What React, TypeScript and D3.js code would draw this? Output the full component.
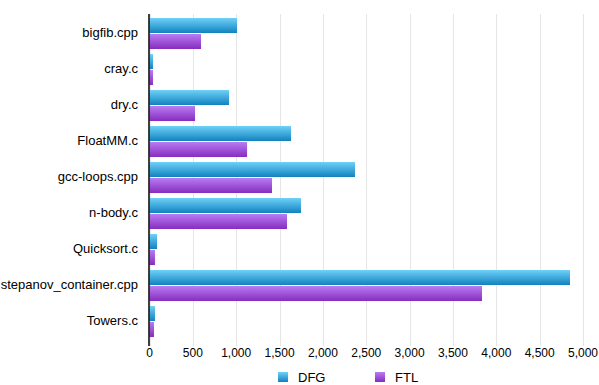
import React from "react";
import * as d3 from "d3";

const categories = ["bigfib.cpp", "cray.c", "dry.c", "FloatMM.c", "gcc-loops.cpp", "n-body.c", "Quicksort.c", "stepanov_container.cpp", "Towers.c"];
const seriesNames = ["DFG", "FTL"];
const dfgValues = [1010, 40, 917, 1632, 2370, 1747, 87, 4850, 63];
const ftlValues = [594, 40, 525, 1125, 1413, 1586, 63, 3835, 52];
const xTicks = [0, 500, 1000, 1500, 2000, 2500, 3000, 3500, 4000, 4500, 5000];

const W = 599, H = 385;
const left = 149.5, right = 583, top = 14, bottom = 338;

export default function App() {
  const x = d3.scaleLinear().domain([0, 5000]).range([left, right]);
  const y = d3.scaleBand<string>().domain(categories).range([top, bottom]).paddingInner(0).paddingOuter(0);
  const inner = d3.scaleBand<string>().domain(seriesNames).range([4, y.bandwidth() - 1]).paddingInner(0.06);
  const fmt = d3.format(",");
  const series = [dfgValues, ftlValues];
  const fills = ["url(#gDFG)", "url(#gFTL)"];
  const legendX = [278, 375];
  return (
    <svg width={W} height={H} style={{ position: "absolute", left: 0, top: 0 }} fontFamily="'Liberation Sans', Arial, sans-serif">
      <defs>
        <linearGradient id="gDFG" x1="0" y1="0" x2="0" y2="1">
          <stop offset="0" stopColor="#6fd1f7" />
          <stop offset="1" stopColor="#1182bf" />
        </linearGradient>
        <linearGradient id="gFTL" x1="0" y1="0" x2="0" y2="1">
          <stop offset="0" stopColor="#b87cf2" />
          <stop offset="1" stopColor="#872cbf" />
        </linearGradient>
      </defs>
      {xTicks.map((t) => (
        <line key={"g" + t} x1={Math.round(x(t)) + 0.5} x2={Math.round(x(t)) + 0.5} y1={top} y2={346} stroke="#e6e6e6" strokeWidth={1} />
      ))}
      {categories.map((c, i) =>
        series.map((vals, s) => (
          <rect key={c + s} x={x(0)} y={(y(c) as number) + (inner(seriesNames[s]) as number)} width={x(vals[i]) - x(0)} height={inner.bandwidth()} fill={fills[s]} />
        ))
      )}
      <line x1={149} x2={149} y1={top} y2={346} stroke="#000" strokeWidth={1.5} />
      {categories.map((c) => (
        <text key={"l" + c} x={138} y={(y(c) as number) + y.bandwidth() / 2} textAnchor="end" dominantBaseline="central" fontSize={13} fill="#000">{c}</text>
      ))}
      {xTicks.map((t) => (
        <text key={"t" + t} x={x(t)} y={353} textAnchor="middle" dominantBaseline="central" fontSize={12} fill="#000">{fmt(t)}</text>
      ))}
      {seriesNames.map((n, s) => {
        const lx = legendX[s];
        return (
          <g key={"leg" + n}>
            <rect x={lx} y={372} width={10} height={10} fill={fills[s]} />
            <text x={lx + 20} y={377} dominantBaseline="central" fontSize={13} fill="#000">{n}</text>
          </g>
        );
      })}
    </svg>
  );
}
